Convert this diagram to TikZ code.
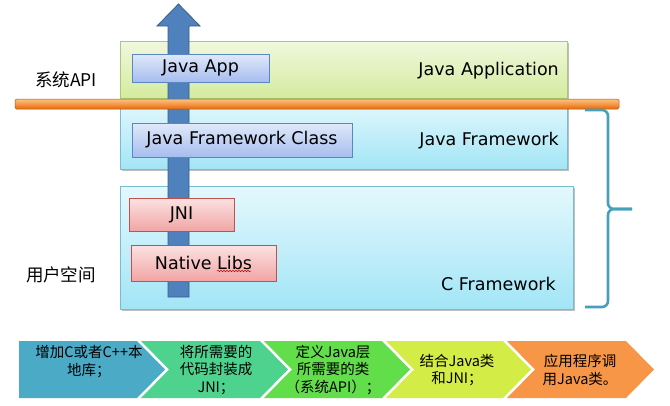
\documentclass[tikz,border=0pt]{standalone}
\usepackage{fontspec}
\setmainfont{DejaVu Sans}
\newfontfamily\cjk{Noto Sans CJK SC}
\usetikzlibrary{decorations.pathmorphing}
\definecolor{grtop}{RGB}{240,248,222}
\definecolor{grbot}{RGB}{212,235,158}
\definecolor{grline}{RGB}{170,200,120}
\definecolor{cytop}{RGB}{228,248,253}
\definecolor{cybot}{RGB}{162,229,246}
\definecolor{cyline}{RGB}{120,188,208}
\definecolor{bltop}{RGB}{224,233,250}
\definecolor{blbot}{RGB}{166,189,238}
\definecolor{blline}{RGB}{90,135,195}
\definecolor{pktop}{RGB}{252,226,226}
\definecolor{pkbot}{RGB}{241,165,165}
\definecolor{pkline}{RGB}{192,80,77}
\definecolor{ortop}{RGB}{250,196,125}
\definecolor{ormid}{RGB}{247,150,70}
\definecolor{orbot}{RGB}{226,106,12}
\definecolor{arfill}{RGB}{79,129,189}
\definecolor{arline}{RGB}{56,93,138}
\definecolor{brcol}{RGB}{70,160,188}
\definecolor{cha}{RGB}{75,170,198}
\definecolor{chb}{RGB}{78,211,143}
\definecolor{chc}{RGB}{98,222,74}
\definecolor{chd}{RGB}{212,236,70}
\definecolor{che}{RGB}{247,150,70}
\definecolor{shadowcol}{RGB}{190,190,190}
\begin{document}
\begin{tikzpicture}[x=1pt,y=-1pt,
  lbl/.style={font=\fontsize{17.5}{20}\selectfont, inner sep=0pt},
  layergreen/.style={draw=grline, line width=0.8pt, top color=grtop, bottom color=grbot, inner sep=0pt},
  layercyan/.style={draw=cyline, line width=0.8pt, top color=cytop, bottom color=cybot, inner sep=0pt},
  bluebox/.style={draw=blline, line width=0.8pt, top color=bltop, bottom color=blbot, inner sep=0pt, font=\fontsize{17.5}{20}\selectfont},
  pinkbox/.style={draw=pkline, line width=0.8pt, top color=pktop, bottom color=pkbot, inner sep=0pt, font=\fontsize{17.5}{20}\selectfont},
  apibar/.style={draw=orbot!80!black, line width=0.5pt, top color=ortop, bottom color=orbot, middle color=ormid, inner sep=0pt, rounded corners=1.5pt},
  uparrow/.style={fill=arfill, draw=arline, line width=0.8pt},
  bracestyle/.style={draw=brcol, line width=2.6pt, rounded corners=6pt},
  chevtext/.style={font=\cjk\fontsize{14.5}{17.5}\selectfont, align=center, inner sep=0pt},
  sidelbl/.style={font=\cjk\fontsize{17.5}{20}\selectfont, inner sep=0pt},
  shadowbox/.style={fill=shadowcol, draw=none}
]
\useasboundingbox (0,0) rectangle (670,405);

% soft shadows of the layers
\fill[shadowbox] (122,43) rectangle (569,100);
\fill[shadowbox] (122,104) rectangle (569,171);
\fill[shadowbox] (122,188) rectangle (575,311);

% layers
\node[layergreen, minimum width=447pt, minimum height=57pt] (appLayer) at (343.5,69.5) {};
\node[layercyan, minimum width=447pt, minimum height=69pt] (jfwLayer) at (343.5,134.5) {};
\node[layercyan, minimum width=453pt, minimum height=123pt] (cfwLayer) at (346.5,247.5) {};

\node[lbl, anchor=east] (tApp) at (559,70.5) {Java Application};
\node[lbl, anchor=east] (tJfw) at (559,140.5) {Java Framework};
\node[lbl, anchor=east] (tCfw) at (556,283.5) {C Framework};

% up arrow
\filldraw[uparrow] (168,297) -- (168,26) -- (157,26) -- (178.5,4) -- (200,26) -- (189,26) -- (189,297) -- cycle;

% inner boxes
\node[bluebox, minimum width=137pt, minimum height=28pt] (javaApp) at (200.5,68) {Java App};
\node[bluebox, minimum width=220pt, minimum height=34pt] (jfc) at (242,140) {Java Framework Class};
\node[pinkbox, minimum width=105pt, minimum height=33pt] (jni) at (181.5,214.5) {JNI};
\node[pinkbox, minimum width=145pt, minimum height=36pt] (native) at (203.5,263) {Native Libs};
\draw[red!80!black, line width=0.5pt, decorate, decoration={snake, amplitude=0.8pt, segment length=3pt}] (217,271) -- (251,271);

% API bar
\node[apibar, minimum width=604pt, minimum height=10pt] (api) at (317,104) {};

% side labels
\node[sidelbl] (sysApi) at (66,80) {系统API};
\node[sidelbl] (userSpace) at (61,275) {用户空间};

% brace
\coordinate (brTop) at (585,110);
\coordinate (brTip) at (632,209);
\coordinate (brBot) at (585,307);
\draw[bracestyle] (brTop) -- (608,110) -- (608,209) -- (brTip);
\draw[bracestyle] (brBot) -- (608,307) -- (608,209) -- (brTip);

% chevrons
\fill[cha] (19,341) -- (137,341) -- (165,369.5) -- (137,398) -- (19,398) -- cycle;
\fill[chb] (141,341) -- (260,341) -- (288,369.5) -- (260,398) -- (141,398) -- (169,369.5) -- cycle;
\fill[chc] (264,341) -- (382,341) -- (410,369.5) -- (382,398) -- (264,398) -- (292,369.5) -- cycle;
\fill[chd] (386,341) -- (503,341) -- (531,369.5) -- (503,398) -- (386,398) -- (414,369.5) -- cycle;
\fill[che] (507,341) -- (626,341) -- (654,369.5) -- (626,398) -- (507,398) -- (535,369.5) -- cycle;

\node[chevtext] (s1) at (89,361.5) {增加C或者C++本\\地库；};
\node[chevtext] (s2) at (216,370) {将所需要的\\代码封装成\\JNI；};
\node[chevtext] (s3) at (333,370) {定义Java层\\所需要的类\\（系统API）；};
\node[chevtext] (s4) at (457,370) {结合Java类\\和JNI；};
\node[chevtext] (s5) at (580,370) {应用程序调\\用Java类。};
\end{tikzpicture}
\end{document}
